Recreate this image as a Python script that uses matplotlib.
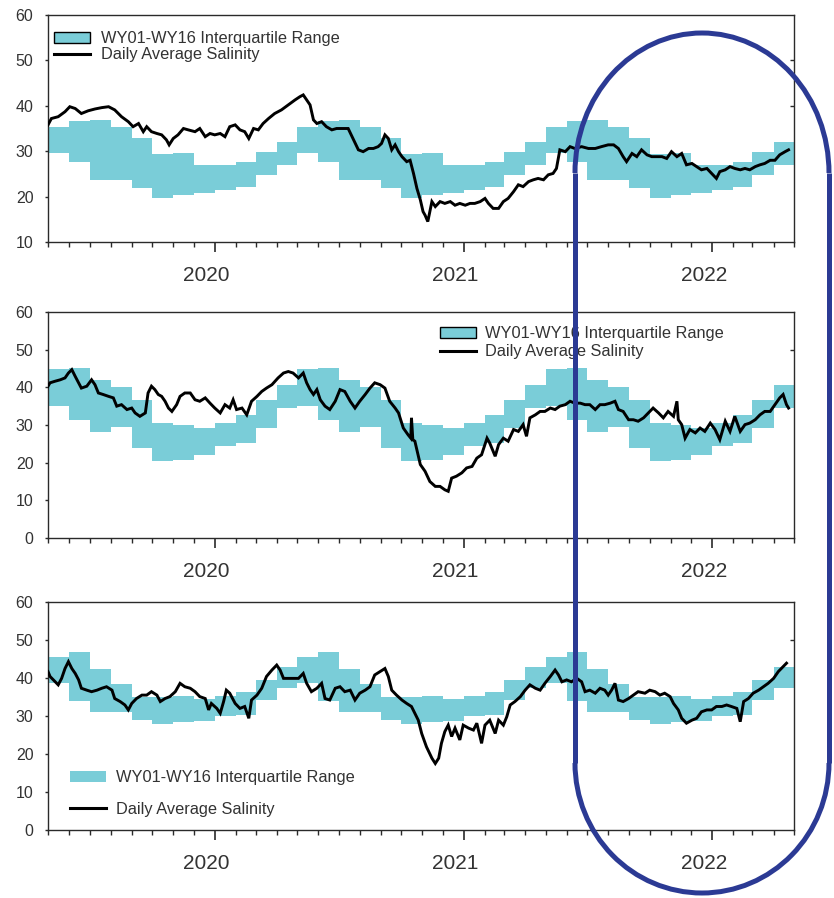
import numpy as np
import pandas as pd
import matplotlib
matplotlib.use("Agg")
import matplotlib.pyplot as plt
import matplotlib.dates as mdates
from matplotlib.patches import Patch, Arc
from matplotlib.lines import Line2D

plt.rcParams['font.family'] = ['Liberation Sans', 'DejaVu Sans']

# ---------------- data ----------------
start_date = "2019-05-01"
month_starts = pd.date_range(start_date, periods=37, freq="MS")
year_ticks = ["2020-01-01", "2021-01-01", "2022-01-01"]
year_labels = ["2020", "2021", "2022"]

# monthly interquartile range (May 2019 .. Apr 2022)
top_q3 = [35.3, 36.7, 36.9, 35.4, 33.0, 29.4, 29.5, 27.0, 27.0, 27.7, 29.9, 32.1,
          35.3, 36.7, 36.9, 35.4, 33.0, 29.4, 29.5, 27.0, 27.0, 27.7, 29.9, 32.1,
          35.3, 36.7, 36.9, 35.4, 33.0, 29.4, 29.5, 27.0, 27.0, 27.7, 29.9, 32.1]
top_q1 = [29.7, 27.7, 23.7, 23.7, 21.8, 19.6, 20.4, 20.7, 21.5, 22.2, 24.8, 27.0,
          29.7, 27.7, 23.7, 23.7, 21.8, 19.6, 20.4, 20.7, 21.5, 22.2, 24.8, 27.0,
          29.7, 27.7, 23.7, 23.7, 21.8, 19.6, 20.4, 20.7, 21.5, 22.2, 24.8, 27.0]
mid_q3 = [44.8, 45.2, 42.0, 40.2, 36.7, 30.5, 30.1, 29.3, 30.5, 32.7, 36.7, 40.7,
          44.8, 45.2, 42.0, 40.2, 36.7, 30.5, 30.1, 29.3, 30.5, 32.7, 36.7, 40.7,
          44.8, 45.2, 42.0, 40.2, 36.7, 30.5, 30.1, 29.3, 30.5, 32.7, 36.7, 40.7]
mid_q1 = [35.0, 31.4, 28.2, 29.5, 23.9, 20.4, 20.8, 22.0, 24.5, 25.2, 29.2, 34.5,
          35.0, 31.4, 28.2, 29.5, 23.9, 20.4, 20.8, 22.0, 24.5, 25.2, 29.2, 34.5,
          35.0, 31.4, 28.2, 29.5, 23.9, 20.4, 20.8, 22.0, 24.5, 25.2, 29.2, 34.5]
bot_q3 = [45.6, 46.8, 42.3, 38.5, 35.1, 35.1, 35.3, 34.4, 35.3, 36.2, 39.6, 42.9,
          45.6, 46.8, 42.3, 38.5, 35.1, 35.1, 35.3, 34.4, 35.3, 36.2, 39.6, 42.9,
          45.6, 46.8, 42.3, 38.5, 35.1, 35.1, 35.3, 34.4, 35.3, 36.2, 39.6, 42.9]
bot_q1 = [38.8, 34.0, 31.0, 31.0, 29.0, 28.0, 28.5, 28.8, 29.9, 30.3, 34.1, 37.3,
          38.8, 34.0, 31.0, 31.0, 29.0, 28.0, 28.5, 28.8, 29.9, 30.3, 34.1, 37.3,
          38.8, 34.0, 31.0, 31.0, 29.0, 28.0, 28.5, 28.8, 29.9, 30.3, 34.1, 37.3]

# daily average salinity (days since 2019-05-01)
top_days = [0, 5, 15, 25, 32, 40, 49, 59, 69, 79, 89, 98, 108, 118, 125, 133, 140, 145, 152, 160,
            167, 174, 178, 184, 191, 199, 206, 216, 223, 231, 238, 245, 253, 260, 267, 275, 282, 289, 295, 302,
            309, 316, 324, 333, 343, 353, 363, 370, 375, 380, 385, 390, 395, 402, 409, 417, 424, 431, 441, 449,
            456, 463, 471, 478, 485, 490, 495, 500, 505, 510, 515, 520, 527, 532, 537, 542, 547, 551,
            554, 558, 564, 569, 576, 583, 591, 598, 605, 613, 620, 627, 635, 642, 647, 654, 662, 669, 676, 684,
            691, 698, 706, 713, 720, 728, 735, 742, 747, 752, 760, 767, 774, 784, 794, 804, 813, 823, 831, 838,
            845, 850, 858, 865, 872, 880, 887, 894, 902, 909, 916, 924, 931, 938, 946, 953, 960, 968, 975, 982,
            987, 995, 1002, 1009, 1017, 1024, 1031, 1039, 1046, 1053, 1061, 1068, 1075, 1083, 1088]
top_sal = [35.8, 37.2, 37.6, 38.7, 39.8, 39.4, 38.3, 38.9, 39.3, 39.6, 39.8, 39.1, 37.6, 36.5, 35.4, 36.1, 34.3, 35.4, 34.3, 33.9,
           33.6, 32.5, 31.4, 32.8, 33.6, 35.0, 34.7, 34.3, 35.0, 33.2, 33.9, 33.6, 33.9, 33.2, 35.4, 35.8, 34.7, 34.3, 32.8, 35.0,
           34.7, 36.1, 37.2, 38.3, 39.1, 40.2, 41.3, 42.0, 42.4, 41.3, 40.2, 36.9, 36.1, 36.5, 35.4, 34.7, 35.0, 35.0, 35.0, 32.5,
           30.3, 29.9, 30.6, 30.6, 31.0, 31.7, 33.6, 32.8, 30.3, 31.4, 29.9, 28.8, 27.7, 28.0, 25.1, 21.8, 19.3, 16.7,
           15.9, 14.5, 18.9, 17.8, 18.9, 18.5, 18.9, 18.1, 18.5, 18.1, 18.5, 18.5, 18.9, 19.6, 18.5, 17.4, 17.4, 18.9, 19.6, 21.1,
           22.6, 22.2, 23.3, 23.7, 24.0, 23.7, 24.8, 25.1, 26.2, 30.3, 29.9, 31.0, 30.6, 31.0, 30.6, 30.6, 31.0, 31.4, 31.4, 30.6,
           28.8, 27.7, 29.5, 28.8, 30.3, 29.2, 28.8, 28.8, 28.8, 28.4, 29.9, 28.8, 29.5, 27.0, 27.3, 26.6, 25.9, 26.2, 25.1, 24.0,
           25.5, 25.9, 26.6, 26.2, 25.9, 26.2, 25.9, 26.6, 27.0, 27.3, 28.0, 28.0, 29.2, 29.9, 30.3]

mid_days = [0, 3, 10, 18, 25, 30, 35, 40, 45, 49, 57, 64, 69, 74, 81, 89, 96, 101, 108, 116,
            123, 128, 135, 143, 147, 152, 157, 162, 167, 172, 177, 182, 189, 194, 201, 209, 216, 223, 231, 238,
            245, 253, 260, 267, 272, 277, 285, 292, 299, 307, 314, 321, 329, 338, 346, 353, 360, 368, 375, 380,
            385, 390, 395, 400, 407, 414, 422, 429, 436, 444, 451, 458, 466, 473, 480, 488, 495, 502, 510, 515,
            522, 529, 533, 534, 536, 539,
            547, 554, 561, 569, 576, 583, 588, 593, 600, 608, 615, 623, 630, 637, 645, 649, 657, 662, 669, 676,
            684, 691, 698, 703, 708, 716, 723, 730, 738, 745, 752, 760, 767, 774, 782, 789, 796, 804, 811, 818,
            826, 833, 838, 845, 853, 860, 867, 875, 882, 889, 897, 904, 911, 919, 924, 926, 931, 936, 943, 951,
            958, 965, 973, 980, 987, 995, 1002, 1009, 1017, 1024, 1031, 1039, 1046, 1053, 1061, 1068, 1075, 1080, 1085, 1088]
mid_sal = [40.3, 41.2, 41.6, 42.0, 42.5, 43.8, 44.7, 42.9, 41.2, 39.8, 40.3, 42.0, 40.7, 38.5, 38.1, 37.6, 37.2, 35.0, 35.4, 34.1,
           34.5, 33.2, 32.3, 33.2, 38.5, 40.3, 39.4, 38.1, 37.6, 36.3, 34.5, 33.6, 35.4, 37.6, 38.5, 38.5, 36.7, 36.3, 37.2, 35.8,
           34.5, 33.2, 35.4, 34.5, 36.7, 34.1, 34.5, 32.7, 36.3, 37.6, 38.9, 39.8, 40.7, 42.5, 43.8, 44.2, 43.8, 42.5, 43.8, 41.2,
           39.4, 38.1, 39.4, 36.7, 35.0, 34.1, 36.3, 39.4, 38.9, 36.3, 34.5, 36.3, 38.1, 39.8, 41.2, 40.7, 39.8, 36.3, 34.5, 33.2,
           29.2, 27.4, 26.5, 31.9, 26.1, 25.7,
           19.5, 17.7, 15.0, 13.7, 13.7, 12.8, 12.4, 15.9, 16.4, 17.3, 18.6, 19.0, 21.2, 22.1, 26.5, 25.2, 21.7, 24.8, 26.5, 25.7,
           28.8, 28.3, 30.1, 27.0, 31.9, 32.7, 33.6, 33.6, 34.5, 34.1, 35.0, 35.4, 36.3, 35.8, 35.8, 35.4, 35.4, 34.1, 35.4, 35.4,
           35.8, 36.3, 34.1, 33.6, 31.4, 31.4, 31.0, 31.9, 33.2, 34.5, 33.2, 31.9, 33.6, 32.3, 36.3, 31.4, 30.1, 26.5, 28.8, 27.9,
           29.2, 28.3, 30.5, 28.8, 26.1, 31.0, 28.3, 32.3, 28.3, 30.1, 30.5, 31.4, 32.7, 33.6, 33.6, 35.4, 37.2, 38.1, 35.4, 34.5]

bot_days = [0, 3, 8, 15, 20, 25, 30, 35, 40, 45, 49, 57, 64, 72, 79, 86, 94, 98, 106, 113,
            118, 123, 130, 138, 145, 152, 160, 165, 172, 179, 187, 194, 201, 209, 216, 223, 231, 236, 240, 248,
            253, 258, 262, 267, 275, 282, 289, 295, 299, 307, 314, 321, 329, 336, 341, 346, 353, 360, 368, 375,
            380, 387, 395, 402, 407, 414, 422, 429, 436, 444, 451, 458, 466, 473, 480, 488, 495, 500, 505, 512,
            520, 527, 534,
            544, 549, 556, 564, 569, 574, 578, 583, 588, 593, 598, 605, 610, 618, 625, 630, 637, 642, 649, 657,
            662, 669, 674, 679, 686, 694, 701, 708, 716, 723, 730, 738, 745, 750, 755, 762, 769, 777, 784, 789,
            796, 804, 811, 818, 823, 828, 833, 838, 845, 853, 860, 867, 877, 884, 892, 899, 906, 914, 919, 926,
            931, 938, 946, 953, 960, 968, 975, 982, 990, 997, 1004, 1012, 1017, 1022, 1029, 1036, 1044, 1051, 1058, 1066,
            1073, 1080, 1085]
bot_sal = [41.7, 40.4, 39.5, 38.2, 39.9, 42.5, 44.3, 42.5, 41.2, 39.5, 37.3, 36.8, 36.4, 36.8, 37.3, 37.7, 36.8, 34.6, 33.8, 32.9,
           31.6, 33.3, 34.6, 35.5, 35.5, 36.4, 35.5, 33.8, 34.6, 35.1, 36.4, 38.6, 37.7, 37.3, 36.4, 35.1, 34.6, 31.6, 33.3, 32.0,
           30.7, 33.8, 36.8, 36.0, 33.3, 32.0, 32.5, 29.4, 34.2, 35.5, 37.3, 40.4, 42.1, 43.4, 42.1, 39.9, 39.9, 39.9, 39.9, 41.2,
           38.6, 36.4, 37.3, 38.6, 34.6, 34.2, 37.3, 37.7, 36.4, 36.8, 34.2, 36.0, 36.8, 37.7, 40.8, 41.7, 42.5, 40.4, 36.8, 35.5,
           34.2, 33.3, 32.5,
           28.9, 25.4, 21.9, 18.9, 17.5, 18.9, 22.8, 25.9, 27.6, 24.6, 26.8, 23.7, 27.6, 26.8, 26.3, 28.1, 22.8, 27.6, 28.9, 25.4,
           28.9, 27.6, 29.8, 32.9, 33.8, 35.1, 36.8, 38.2, 37.3, 36.8, 38.6, 40.4, 42.1, 40.8, 39.0, 39.5, 39.0, 39.9, 39.0, 36.4,
           36.8, 36.0, 37.3, 36.8, 35.5, 36.8, 38.6, 34.2, 33.8, 34.6, 35.5, 36.4, 36.0, 36.8, 36.4, 35.5, 36.0, 35.1, 33.3, 31.6,
           29.4, 28.1, 28.9, 29.4, 31.1, 31.6, 31.6, 32.5, 32.5, 32.9, 32.5, 32.0, 28.5, 33.8, 34.6, 36.0, 36.8, 37.7, 38.6, 39.9,
           41.7, 43.0, 43.9]

iqr_label = "WY01-WY16 Interquartile Range"
line_label = "Daily Average Salinity"

# ---------------- style ----------------
W, H = 834, 898
BAND = "#7ACDD8"
TXT = "#333333"
SPINE = "#2a2a2a"
OVAL = "#2B3A94"

fig = plt.figure(figsize=(W / 100, H / 100), dpi=100)

def fig_rect(x0, y_top, x1, y_bot):
    return [x0 / W, 1 - y_bot / H, (x1 - x0) / W, (y_bot - y_top) / H]

panels = [
    dict(rect=fig_rect(48, 15, 794, 242), ylim=(10, 60), q1=top_q1, q3=top_q3,
         days=top_days, sal=top_sal, rticks=[40, 50]),
    dict(rect=fig_rect(48, 312, 794, 538), ylim=(0, 60), q1=mid_q1, q3=mid_q3,
         days=mid_days, sal=mid_sal, rticks=[50]),
    dict(rect=fig_rect(48, 602, 794, 830), ylim=(0, 60), q1=bot_q1, q3=bot_q3,
         days=bot_days, sal=bot_sal, rticks=[50]),
]

t0 = np.datetime64(start_date)
axes = []
for p in panels:
    ax = fig.add_axes(p["rect"])
    axes.append(ax)
    q1 = list(p["q1"]) + [p["q1"][-1]]
    q3 = list(p["q3"]) + [p["q3"][-1]]
    ax.fill_between(month_starts, q1, q3, step="post", color=BAND, lw=0, zorder=1)
    dates = t0 + np.array(p["days"]).astype("timedelta64[D]")
    ax.plot(dates, p["sal"], color="black", lw=2.1, zorder=3, solid_joinstyle="miter")
    ax.set_xlim(month_starts[0], month_starts[-1])
    ax.set_ylim(*p["ylim"])
    ax.set_yticks(np.arange(p["ylim"][0], 61, 10))
    ax.xaxis.set_minor_locator(mdates.MonthLocator())
    ax.set_xticks(pd.to_datetime(year_ticks))
    ax.set_xticklabels([])
    ax.tick_params(axis="x", which="major", direction="out", length=7, width=1.2, color=SPINE)
    ax.tick_params(axis="x", which="minor", direction="out", length=3.5, width=1.0, color=SPINE)
    ax.tick_params(axis="y", direction="out", length=2.5, width=1.0, color=SPINE,
                   labelsize=11.5, labelcolor=TXT, pad=8)
    for s in ax.spines.values():
        s.set_color(SPINE)
        s.set_linewidth(1.0)
    for yt, yl in zip(pd.to_datetime(year_ticks), year_labels):
        ax.annotate(yl, xy=(mdates.date2num(yt), 0), xycoords=("data", "axes fraction"),
                    xytext=(-6, -17), textcoords="offset points",
                    ha="center", va="top", fontsize=15, color=TXT)
    sec = ax.secondary_yaxis("right")
    sec.set_yticks(p["rticks"])
    sec.set_yticklabels([])
    sec.tick_params(direction="in", length=3, width=1.0, color=SPINE)
    sec.spines["right"].set_visible(False)

line_handle = Line2D([], [], color="black", lw=2.2)
# top legend
axes[0].legend([Patch(facecolor=BAND, edgecolor="black", lw=1.0), line_handle],
               [iqr_label, line_label], loc="upper left", bbox_to_anchor=(0.008, 0.929),
               frameon=False, fontsize=11.8, labelcolor=TXT, handlelength=2.2,
               handleheight=0.65, handletextpad=0.7, labelspacing=0.08,
               borderpad=0, borderaxespad=0)
# middle legend
axes[1].legend([Patch(facecolor=BAND, edgecolor="black", lw=1.0), line_handle],
               [iqr_label, line_label], loc="upper left", bbox_to_anchor=(0.525, 0.938),
               frameon=False, fontsize=11.8, labelcolor=TXT, handlelength=2.2,
               handleheight=0.65, handletextpad=0.55, labelspacing=0.2,
               borderpad=0, borderaxespad=0)
# bottom legend
axes[2].legend([Patch(facecolor=BAND, edgecolor="none"), line_handle],
               [iqr_label, line_label], loc="lower left", bbox_to_anchor=(0.03, 0.059),
               frameon=False, fontsize=11.8, labelcolor=TXT, handlelength=2.2,
               handleheight=0.65, handletextpad=0.6, labelspacing=1.0,
               borderpad=0, borderaxespad=0)

# ---------------- blue highlight outline (figure pixels) ----------------
ox0, ox1, oy_top, oy_bot = 575, 829, 33, 893
ry_top, ry_bot = 140, 130
rx = (ox1 - ox0) / 2
cx = (ox0 + ox1) / 2
tr = fig.transFigure
def fx(x): return x / W
def fy(y): return 1 - y / H
fig.add_artist(Arc((fx(cx), fy(oy_top + ry_top)), 2 * rx / W, 2 * ry_top / H,
                   theta1=0, theta2=180, transform=tr, color=OVAL, lw=3.6))
fig.add_artist(Arc((fx(cx), fy(oy_bot - ry_bot)), 2 * rx / W, 2 * ry_bot / H,
                   theta1=180, theta2=360, transform=tr, color=OVAL, lw=3.6))
for xx in (ox0, ox1):
    fig.add_artist(Line2D([fx(xx), fx(xx)], [fy(oy_top + ry_top), fy(oy_bot - ry_bot)],
                          transform=tr, color=OVAL, lw=3.6, solid_capstyle="butt"))

fig.savefig("out.png", dpi=100)
